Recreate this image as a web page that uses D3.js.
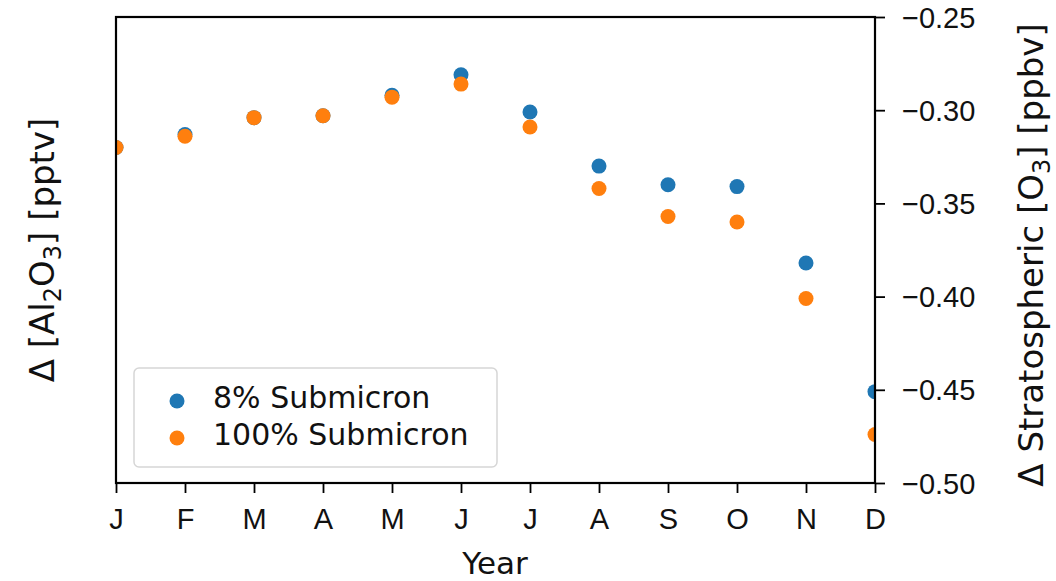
<!DOCTYPE html>
<html>
<head>
<meta charset="utf-8">
<script src="https://cdn.jsdelivr.net/npm/d3@7"></script>
<style>
  html, body { margin: 0; padding: 0; background: #fff; }
  svg { display: block; font-family: "DejaVu Sans", sans-serif; }
</style>
</head>
<body>
<svg id="chart" width="1056" height="581"></svg>
<script>
// Monthly change in stratospheric ozone for two particle size scenarios
const months = ["J", "F", "M", "A", "M", "J", "J", "A", "S", "O", "N", "D"];
const submicron8 = [-0.320, -0.313, -0.304, -0.303, -0.292, -0.281, -0.301, -0.330, -0.340, -0.341, -0.382, -0.451];
const submicron100 = [-0.320, -0.314, -0.304, -0.303, -0.293, -0.286, -0.309, -0.342, -0.357, -0.360, -0.401, -0.474];
const yTicks = [-0.50, -0.45, -0.40, -0.35, -0.30, -0.25];
const seriesNames = ["8% Submicron", "100% Submicron"];
const seriesColors = ["#1f77b4", "#ff7f0e"];

const svg = d3.select("#chart");
const plot = { left: 116, right: 875, top: 17, bottom: 483 };

const x = d3.scaleLinear().domain([0, months.length - 1]).range([plot.left, plot.right]);
const y = d3.scaleLinear().domain([-0.50, -0.25]).range([plot.bottom, plot.top]);

// clip markers to the axes box
svg.append("defs").append("clipPath").attr("id", "plotClip")
  .append("rect")
  .attr("x", plot.left).attr("y", plot.top)
  .attr("width", plot.right - plot.left).attr("height", plot.bottom - plot.top);

const marks = svg.append("g").attr("clip-path", "url(#plotClip)");
[submicron8, submicron100].forEach((vals, si) => {
  marks.selectAll(null)
    .data(vals)
    .enter().append("circle")
    .attr("cx", (d, i) => x(i))
    .attr("cy", d => y(d))
    .attr("r", 7.5)
    .attr("fill", seriesColors[si]);
});

// bottom axis: month initials
const xAxis = d3.axisBottom(x)
  .tickValues(d3.range(months.length))
  .tickFormat(i => months[i])
  .tickSize(10).tickPadding(15);
const gx = svg.append("g").attr("transform", `translate(0,${plot.bottom})`).call(xAxis);

// right axis: ozone change
const yAxis = d3.axisRight(y)
  .tickValues(yTicks)
  .tickFormat(d => d3.format(".2f")(d).replace("-", "\u2212"))
  .tickSize(10).tickPadding(17);
const gy = svg.append("g").attr("transform", `translate(${plot.right},0)`).call(yAxis);

[gx, gy].forEach(g => {
  g.select(".domain").remove();
  g.selectAll(".tick line").attr("stroke", "#000").attr("stroke-width", 1.8);
  g.selectAll(".tick text").attr("fill", "#111").style("font-size", "29px");
});
gx.selectAll(".tick text").attr("dy", "0.71em");
gy.selectAll(".tick text").attr("dy", "0.35em");

// axes frame
svg.append("rect")
  .attr("x", plot.left).attr("y", plot.top)
  .attr("width", plot.right - plot.left).attr("height", plot.bottom - plot.top)
  .attr("fill", "none").attr("stroke", "#000").attr("stroke-width", 2.2);

// axis titles
svg.append("text")
  .attr("transform", `translate(495,574)`)
  .attr("text-anchor", "middle")
  .style("font-size", "31px").attr("fill", "#111")
  .text("Year");

const leftTitle = svg.append("text")
  .attr("transform", `translate(54,250) rotate(-90)`)
  .attr("text-anchor", "middle")
  .style("font-size", "34px").attr("fill", "#111");
leftTitle.append("tspan").text("\u0394 [Al");
leftTitle.append("tspan").attr("dy", 7).style("font-size", "24px").text("2");
leftTitle.append("tspan").attr("dy", -7).text("O");
leftTitle.append("tspan").attr("dy", 7).style("font-size", "24px").text("3");
leftTitle.append("tspan").attr("dy", -7).text("] [pptv]");

const rightTitle = svg.append("text")
  .attr("transform", `translate(1043,255) rotate(-90)`)
  .attr("text-anchor", "middle")
  .style("font-size", "34px").attr("fill", "#111");
rightTitle.append("tspan").text("\u0394 Stratospheric [O");
rightTitle.append("tspan").attr("dy", 7).style("font-size", "24px").text("3");
rightTitle.append("tspan").attr("dy", -7).text("] [ppbv]");

// legend
const legend = svg.append("g");
legend.append("rect")
  .attr("x", 134).attr("y", 368).attr("width", 363).attr("height", 99)
  .attr("rx", 5).attr("fill", "#fff").attr("fill-opacity", 0.8)
  .attr("stroke", "#d6d6d6").attr("stroke-width", 1.5);
seriesNames.forEach((name, i) => {
  const cy = 401 + i * 37;
  legend.append("circle").attr("cx", 177).attr("cy", cy).attr("r", 7.5).attr("fill", seriesColors[i]);
  legend.append("text").attr("x", 213).attr("y", cy + 7)
    .style("font-size", "30px").attr("fill", "#111").text(name);
});
</script>
</body>
</html>
